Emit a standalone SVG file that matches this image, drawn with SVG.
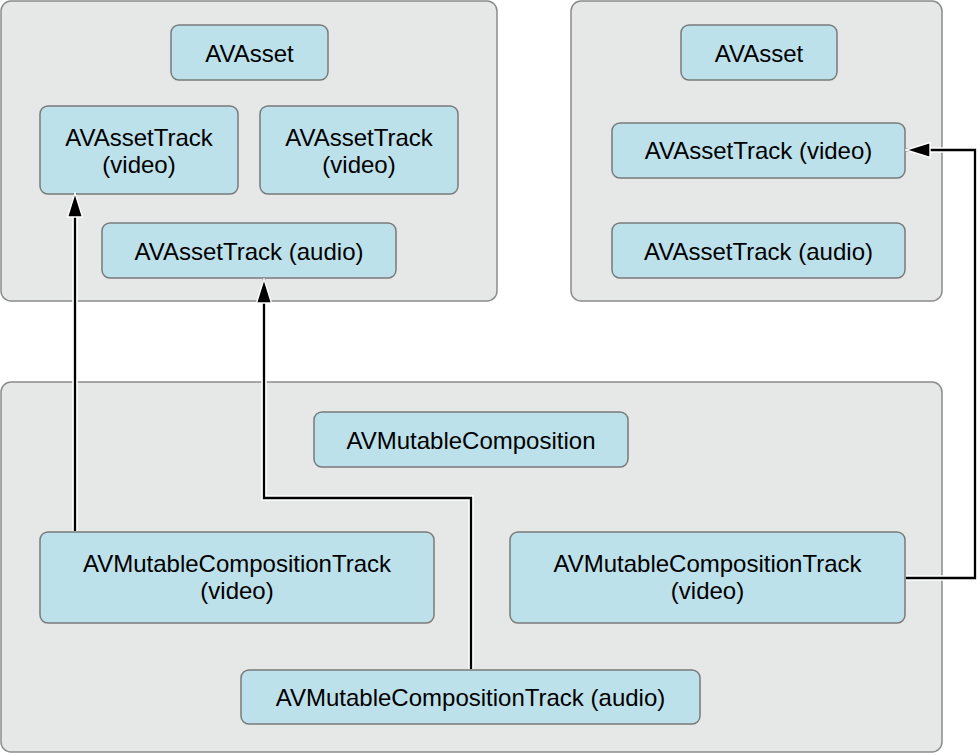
<svg xmlns="http://www.w3.org/2000/svg" width="978" height="753" viewBox="0 0 978 753">
<defs>
<style>
.cont{fill:#e6e7e7;stroke:#8c8c8c;stroke-width:1.5}
.node rect{fill:#bde1ea;stroke:#7a7a7a;stroke-width:1.5}
.node text{font-family:"Liberation Sans",Arial,sans-serif;font-size:24px;fill:#000;text-anchor:middle}
.halo{fill:none;stroke:#fff;stroke-width:5.5}
.line{fill:none;stroke:#000;stroke-width:2.3}
</style>
<marker id="arr" viewBox="0 0 26 18" refX="25" refY="9" markerWidth="26" markerHeight="18" markerUnits="userSpaceOnUse" orient="auto">
<path d="M1,1.5 L25,9 L1,16.5 Z" fill="#000" stroke="#fff" stroke-width="1.4"/>
</marker>
</defs>
<rect class="cont" x="1" y="1" width="496" height="300" rx="10"/>
<rect class="cont" x="571" y="1" width="371" height="300" rx="10"/>
<rect class="cont" x="1" y="382" width="941" height="370" rx="10"/>

<g id="asset1" class="node"><rect x="171" y="25" width="157" height="55" rx="8"/><text x="249.5" y="62">AVAsset</text></g>
<g id="track1v1" class="node"><rect x="40" y="106" width="198" height="88" rx="8"/><text x="139" y="146">AVAssetTrack</text><text x="139" y="173">(video)</text></g>
<g id="track1v2" class="node"><rect x="260" y="106" width="198" height="88" rx="8"/><text x="359" y="146">AVAssetTrack</text><text x="359" y="173">(video)</text></g>
<g id="track1a" class="node"><rect x="102" y="223" width="294" height="55" rx="8"/><text x="249" y="260">AVAssetTrack (audio)</text></g>

<g id="asset2" class="node"><rect x="681" y="25" width="156" height="55" rx="8"/><text x="759" y="62">AVAsset</text></g>
<g id="track2v" class="node"><rect x="612" y="123" width="293" height="55" rx="8"/><text x="758.5" y="159">AVAssetTrack (video)</text></g>
<g id="track2a" class="node"><rect x="612" y="223" width="293" height="55" rx="8"/><text x="758.5" y="260">AVAssetTrack (audio)</text></g>

<g id="comp" class="node"><rect x="314" y="412" width="314" height="55" rx="8"/><text x="471" y="449">AVMutableComposition</text></g>
<g id="ctrackv1" class="node"><rect x="40" y="532" width="394" height="91" rx="8"/><text x="237" y="572">AVMutableCompositionTrack</text><text x="237" y="599">(video)</text></g>
<g id="ctrackv2" class="node"><rect x="510" y="532" width="395" height="91" rx="8"/><text x="707.5" y="572">AVMutableCompositionTrack</text><text x="707.5" y="599">(video)</text></g>
<g id="ctracka" class="node"><rect x="241" y="670" width="459" height="54" rx="8"/><text x="470.5" y="706">AVMutableCompositionTrack (audio)</text></g>

<g id="connectors">
<path class="halo" d="M75,531 V217"/>
<path class="halo" d="M471,669 V498 H264 V302"/>
<path class="halo" d="M906,578 H975 V150 H930"/>
<path class="line" d="M75,531 V193" marker-end="url(#arr)"/>
<path class="line" d="M471,669 V498 H264 V279" marker-end="url(#arr)"/>
<path class="line" d="M906,578 H975 V150 H906" marker-end="url(#arr)"/>
</g>
</svg>
